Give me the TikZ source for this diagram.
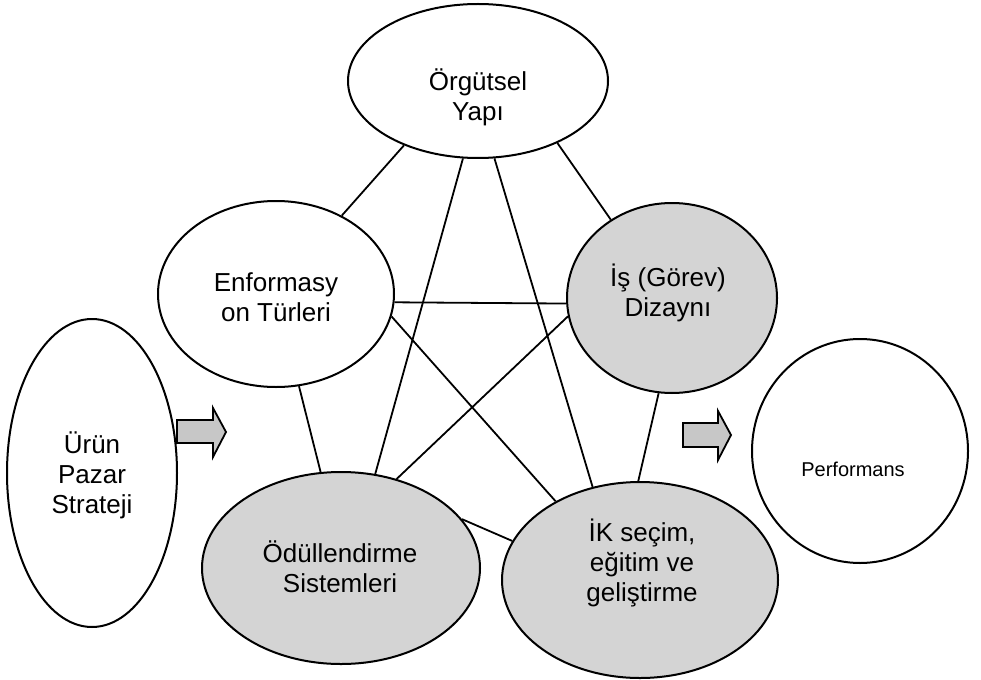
\documentclass[tikz,border=0pt]{standalone}
\usepackage{fontspec}
\setmainfont{Liberation Sans}
\usetikzlibrary{shapes.geometric}
\tikzstyle{chart}=[x=1pt, y=-1pt, line width=2pt]
\tikzstyle{oval}=[ellipse, draw, inner sep=0pt, fill=white]
\tikzstyle{hr}=[ellipse, draw, inner sep=0pt, fill=black!17]
\tikzstyle{lbl}=[align=center, inner sep=0pt, font=\fontsize{26}{30}\selectfont]
\tikzstyle{small}=[align=center, inner sep=0pt, font=\fontsize{20}{24}\selectfont]
\tikzstyle{link}=[-, line width=1.8pt]
\tikzstyle{fatarrow}=[draw, line width=1.8pt, fill=black!22, line join=miter]
\begin{document}
\begin{tikzpicture}[chart]
	\useasboundingbox (0,0) rectangle (981,679);

	%The ovals
	\draw (478,81) node[oval, minimum width=260, minimum height=154] (yapi) {};
	\draw (276,294) node[oval, minimum width=236, minimum height=186] (enf) {};
	\draw (672,298) node[hr, minimum width=210, minimum height=190] (is) {};
	\draw (92,473) node[oval, minimum width=170, minimum height=308] (urun) {};
	\draw (341,568) node[hr, minimum width=278, minimum height=192] (odul) {};
	\draw (640,580) node[hr, minimum width=276, minimum height=196] (ik) {};
	\draw (860,451) node[oval, minimum width=216, minimum height=224] (perf) {};

	%The texts
	\draw (478,97) node[lbl] (yapi-t) {Örgütsel\\Yapı};
	\draw (276,297) node[lbl] (enf-t) {Enformasy\\on Türleri};
	\draw (668,293) node[lbl] (is-t) {İş (Görev)\\Dizaynı};
	\draw (92,475) node[lbl] (urun-t) {Ürün\\Pazar\\Strateji};
	\draw (340,567) node[lbl] (odul-t) {Ödüllendirme\\Sistemleri};
	\draw (642,563) node[lbl] (ik-t) {İK seçim,\\eğitim ve\\geliştirme};
	\draw (853,469) node[small] (perf-t) {Performans};

	%The links
	\draw[link] (yapi.221) -- (enf.50);
	\draw[link] (yapi.259) -- (odul.70);
	\draw[link] (yapi.282) -- (ik.117);
	\draw[link] (yapi.322) -- (is.128);
	\draw[link] (enf.356) -- (is.183);
	\draw[link] (enf.349) -- (ik.137);
	\draw[link] (enf.284) -- (odul.102);
	\draw[link] (is.190) -- (odul.58);
	\draw[link] (is.262) -- (ik.91);
	\draw[link] (odul.22) -- (ik.163);

	%The block arrows
	\draw[fatarrow] (177,420) -- (213,420) -- (213,408) -- (226,432) -- (213,457) -- (213,443) -- (177,443) -- cycle;
	\draw[fatarrow] (683,423) -- (718,423) -- (718,411) -- (731,435) -- (718,460) -- (718,447) -- (683,447) -- cycle;
\end{tikzpicture}
\end{document}
